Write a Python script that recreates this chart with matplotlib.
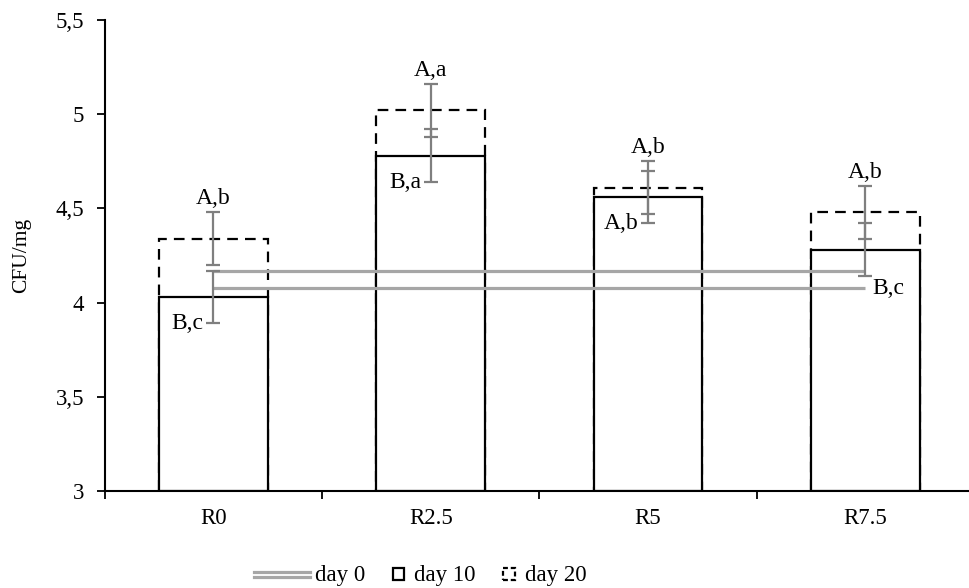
import numpy as np
import matplotlib
matplotlib.use("Agg")
import matplotlib.pyplot as plt
from matplotlib.lines import Line2D
from matplotlib.patches import Rectangle
from matplotlib.legend_handler import HandlerBase

plt.rcParams['font.family'] = ['Liberation Serif', 'DejaVu Serif']

cats = ["R0", "R2.5", "R5", "R7.5"]
day10 = [4.03, 4.78, 4.56, 4.28]
day20 = [4.34, 5.02, 4.61, 4.48]
err10 = [0.14, 0.14, 0.14, 0.14]
err20 = [0.14, 0.14, 0.14, 0.14]
day0_a = [4.17, 4.17, 4.17, 4.17]
day0_b = [4.075, 4.075, 4.075, 4.075]
lab20 = ["A,b", "A,a", "A,b", "A,b"]
lab10 = ["B,c", "B,a", "A,b", "B,c"]

grey_err = "#7f7f7f"
grey_line = "#a6a6a6"
dash = (0, (4.8, 3.2))

fig = plt.figure(figsize=(9.7, 5.88), dpi=100)
ax = fig.add_axes([0.108, 0.165, 0.896, 0.801])

x = np.arange(len(cats)) + 0.5
w = 0.5

# day 20 dashed outline behind
ax.bar(x, np.array(day20) - 3, w, bottom=3, facecolor="none", edgecolor="black",
       linewidth=1.6, linestyle=dash, zorder=1)
# day 10 solid bars
ax.bar(x, np.array(day10) - 3, w, bottom=3, facecolor="white", edgecolor="black",
       linewidth=1.6, zorder=2)

# day 0 double line
ax.plot(x, day0_a, color=grey_line, lw=2.3, zorder=3, solid_capstyle="butt")
ax.plot(x, day0_b, color=grey_line, lw=2.3, zorder=3, solid_capstyle="butt")

ax.errorbar(x, day20, yerr=err20, fmt="none", ecolor=grey_err, elinewidth=1.6,
            capsize=5, capthick=1.6, zorder=4)
ax.errorbar(x, day10, yerr=err10, fmt="none", ecolor=grey_err, elinewidth=1.6,
            capsize=5, capthick=1.6, zorder=4)

fs = 16.5
fl = 17
for i in range(len(cats)):
    ax.text(x[i], day20[i] + err20[i] + 0.015, lab20[i], ha="center", va="bottom",
            fontsize=fl, zorder=5)
for i in range(len(cats) - 1):
    ax.text(x[i] - 0.045, day10[i] - err10[i], lab10[i], ha="right", va="center",
            fontsize=fl, zorder=5)
ax.text(x[3] + 0.035, day0_b[3], lab10[3], ha="left", va="center", fontsize=fl, zorder=5)

ax.set_xlim(0, 4)
ax.set_ylim(3, 5.5)
ax.set_yticks([3, 3.5, 4, 4.5, 5, 5.5])
ax.set_yticklabels(["3", "3,5", "4", "4,5", "5", "5,5"], fontsize=fs)
ax.set_xticks([0, 1, 2, 3, 4])
ax.set_xticklabels([])
ax.set_xticks(x, minor=True)
ax.set_xticklabels(cats, minor=True, fontsize=fs)
ax.tick_params(axis="x", which="minor", length=0, pad=12)
ax.tick_params(axis="x", which="major", length=6, width=1.3, direction="out")
ax.tick_params(axis="y", length=6, width=1.3, direction="out", pad=9)
for s in ["top", "right"]:
    ax.spines[s].set_visible(False)
for s in ["left", "bottom"]:
    ax.spines[s].set_linewidth(1.5)

fig.text(0.022, 0.566, "CFU/mg", rotation=90, ha="center", va="center", fontsize=15.5)


class DoubleLineHandler(HandlerBase):
    def create_artists(self, legend, orig, xd, yd, width, height, fontsize, trans):
        y1 = height * 0.55 - yd
        y2 = height * 0.2 - yd
        x0 = width - xd - 41
        x1 = width - xd - 1
        l1 = Line2D([x0, x1], [y1, y1], color=grey_line, lw=2.3, transform=trans)
        l2 = Line2D([x0, x1], [y2, y2], color=grey_line, lw=2.3, transform=trans)
        return [l1, l2]


class SquareHandler(HandlerBase):
    def __init__(self, ls):
        super().__init__()
        self.ls = ls

    def create_artists(self, legend, orig, xd, yd, width, height, fontsize, trans):
        s = 8.5
        r = Rectangle((width - xd - s - 4.5, -yd + height * 0.05), s, s, facecolor="white",
                      edgecolor="black", lw=1.6, linestyle=self.ls, transform=trans)
        return [r]


h0 = Line2D([], [], label="day 0")
h10 = Rectangle((0, 0), 1, 1, label="day 10")
h20 = Rectangle((0, 0), 1, 1, label="day 20")
fig.legend(handles=[h0, h10, h20], labels=["day 0", "day 10", "day 20"],
           handler_map={h0: DoubleLineHandler(), h10: SquareHandler("solid"),
                        h20: SquareHandler((0, (2.2, 1.3)))},
           loc="center", bbox_to_anchor=(0.452, 0.022), ncol=3, frameon=False,
           fontsize=fs, handlelength=0.9, handletextpad=0.15, columnspacing=1.1,
           borderpad=0.1)

fig.savefig("out.png", dpi=100)
